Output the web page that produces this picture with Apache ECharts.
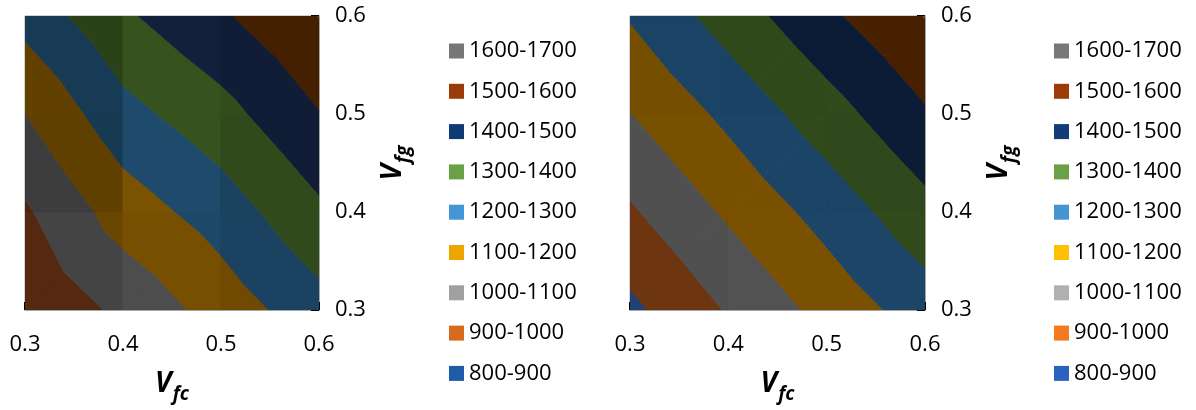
<!DOCTYPE html>
<html>
<head>
<meta charset="utf-8">
<script src="https://cdn.jsdelivr.net/npm/echarts@6/dist/echarts.min.js"></script>
<style>
html,body{margin:0;padding:0;background:#fff;}
#chart{width:1196px;height:410px;}
</style>
</head>
<body>
<div id="chart"></div>
<script>
// ---- data ----
const xVals = [0.3, 0.4, 0.5, 0.6];          // Vfc grid
const yVals = [0.3, 0.4, 0.5, 0.6];          // Vfg grid
// rows: Vfg = 0.3, 0.4, 0.5, 0.6 ; columns: Vfc = 0.3 .. 0.6
const zLeft = [
  [905, 1024, 1141, 1262],
  [986, 1146, 1247, 1380],
  [1099, 1266, 1364, 1495],
  [1235, 1384, 1486, 1602]
];
const zRight = [
  [877, 1008, 1132, 1250],
  [987, 1115, 1238, 1367],
  [1097, 1224, 1355, 1488],
  [1208, 1344, 1479, 1603]
];
const bandLabels = ['800-900','900-1000','1000-1100','1100-1200','1200-1300','1300-1400','1400-1500','1500-1600','1600-1700'];
const bandLow  = [800, 900, 1000, 1100, 1200, 1300, 1400, 1500, 1600];
const bandHigh = [900, 1000, 1100, 1200, 1300, 1400, 1500, 1600, 1700];
const axisTicks = [0.3, 0.4, 0.5, 0.6];

// ---- styles ----
const surfLeft  = ['#244884','#632f11','#4f4f4f','#7b5200','#1e4a6b','#36531f','#12203c','#4a2200','#5e5e5e'];
const surfRight = ['#244884','#7a3b12','#595959','#845800','#1e4b71','#35521f','#0d1f3c','#4f2400','#5e5e5e'];
const legLeft   = ['#1e5ca8','#d86a20','#a0a0a0','#eda500','#4596d4','#6aa046','#0f3a73','#9a3b0a','#777777'];
const legRight  = ['#2a63bd','#f47a20','#b0b0b0','#ffc000','#4595d3','#6aa046','#113c75','#9c3b08','#787878'];
const FONT = 'Open Sans';

// cell shading (steeper along Vfc -> darker), as in a top-viewed 3-D surface
function shadeFactor(gx) { return Math.max(0.6, Math.min(1.1, 1 - (gx - 1000) * 0.00035)); }
function shade(hex, f) {
  const n = parseInt(hex.slice(1), 16);
  const c = [(n >> 16) & 255, (n >> 8) & 255, n & 255].map(v => Math.max(0, Math.min(255, Math.round(v * f))));
  return 'rgb(' + c.join(',') + ')';
}

// ---- contour band polygons (triangulated linear interpolation) ----
function clip(poly, level, above) {
  const out = [];
  for (let i = 0; i < poly.length; i++) {
    const a = poly[i], b = poly[(i + 1) % poly.length];
    const ina = above ? a[2] >= level : a[2] <= level;
    const inb = above ? b[2] >= level : b[2] <= level;
    if (ina) out.push(a);
    if (ina !== inb) {
      const t = (level - a[2]) / (b[2] - a[2]);
      out.push([a[0] + t * (b[0] - a[0]), a[1] + t * (b[1] - a[1]), level]);
    }
  }
  return out;
}
function bandPolys(z, lo, hi) {
  const res = [];
  for (let j = 0; j < yVals.length - 1; j++) {
    for (let i = 0; i < xVals.length - 1; i++) {
      const hx = xVals[i + 1] - xVals[i];
      const p00 = [xVals[i], yVals[j], z[j][i]];
      const p10 = [xVals[i + 1], yVals[j], z[j][i + 1]];
      const p01 = [xVals[i], yVals[j + 1], z[j + 1][i]];
      const p11 = [xVals[i + 1], yVals[j + 1], z[j + 1][i + 1]];
      const gx = ((p10[2] - p00[2]) + (p11[2] - p01[2])) / 2 / hx;
      const f = shadeFactor(gx);
      [[p00, p10, p11], [p00, p11, p01]].forEach(tri => {
        let p = clip(tri, lo, true);
        if (p.length >= 3) p = clip(p, hi, false);
        if (p.length >= 3) res.push({ pts: p, f: f });
      });
    }
  }
  return res;
}

function makeSeries(z, colors, gridIdx) {
  return bandLabels.map((name, k) => {
    const polys = bandPolys(z, bandLow[k], bandHigh[k]);
    return {
      type: 'custom',
      name: name,
      coordinateSystem: 'cartesian2d',
      xAxisIndex: gridIdx, yAxisIndex: gridIdx,
      silent: true,
      clip: true,
      itemStyle: { color: colors[k] },
      data: polys.map(p => {
        let cx = 0, cy = 0;
        p.pts.forEach(q => { cx += q[0]; cy += q[1]; });
        return [cx / p.pts.length, cy / p.pts.length];
      }),
      renderItem: function (params, api) {
        const p = polys[params.dataIndex];
        const col = shade(colors[k], p.f);
        return {
          type: 'polygon',
          shape: { points: p.pts.map(q => api.coord([q[0], q[1]])) },
          style: { fill: col, stroke: col, lineWidth: 1 }
        };
      }
    };
  });
}

const nameRich = {
  v: { fontFamily: FONT, fontSize: 28, fontWeight: 'bold', fontStyle: 'italic', color: '#000', lineHeight: 30, verticalAlign: 'top' },
  s: { fontFamily: FONT, fontSize: 19, fontWeight: 'bold', fontStyle: 'italic', color: '#000', lineHeight: 20, padding: [15, 0, 0, 1], verticalAlign: 'top' }
};
const fmt = v => { const t = axisTicks.find(a => Math.abs(a - v) < 1e-6); return t !== undefined ? t.toFixed(1) : ''; };

function xAxisCfg(gridIdx) {
  return {
    type: 'value', gridIndex: gridIdx, min: 0.3, max: 0.6, interval: 0.1,
    name: '{v|V}{s|fc}', nameLocation: 'middle', nameGap: 60,
    nameTextStyle: { rich: nameRich },
    axisLine: { show: true, lineStyle: { color: '#a6a6a6', width: 1 } },
    axisTick: { show: true, inside: true, length: 8, lineStyle: { color: '#000', width: 2 } },
    splitLine: { show: false },
    axisLabel: { margin: 24, fontFamily: FONT, fontSize: 22, color: '#000', formatter: fmt }
  };
}
function yAxisCfg(gridIdx) {
  return {
    type: 'value', gridIndex: gridIdx, min: 0.3, max: 0.6, interval: 0.1, position: 'right',
    name: '{v|V}{s|fg}', nameLocation: 'middle', nameGap: 60, nameRotate: 90,
    nameTextStyle: { rich: nameRich },
    axisLine: { show: true, lineStyle: { color: '#a6a6a6', width: 1 } },
    axisTick: { show: true, inside: true, length: 8, lineStyle: { color: '#000', width: 2 } },
    splitLine: { show: false },
    axisLabel: { margin: 16, fontFamily: FONT, fontSize: 22, color: '#000', formatter: fmt }
  };
}
function legendCfg(left, colors) {
  return {
    orient: 'vertical', left: left, top: 35, itemGap: 18.3,
    itemWidth: 15, itemHeight: 15, icon: 'rect', selectedMode: false,
    textStyle: { fontFamily: FONT, fontSize: 22, color: '#000' },
    data: bandLabels.map((n, k) => ({ name: n, itemStyle: { color: colors[k] } })).reverse()
  };
}

const chart = echarts.init(document.getElementById('chart'), null, { renderer: 'canvas' });
chart.setOption({
  animation: false,
  backgroundColor: '#fff',
  grid: [
    { left: 25, top: 16, width: 294, height: 294, show: true, borderColor: '#a6a6a6', borderWidth: 1, backgroundColor: 'transparent' },
    { left: 630, top: 16, width: 295, height: 294, show: true, borderColor: '#a6a6a6', borderWidth: 1, backgroundColor: 'transparent' }
  ],
  xAxis: [xAxisCfg(0), xAxisCfg(1)],
  yAxis: [yAxisCfg(0), yAxisCfg(1)],
  legend: [legendCfg(444, legLeft), legendCfg(1049, legRight)],
  series: makeSeries(zLeft, surfLeft, 0).concat(makeSeries(zRight, surfRight, 1))
});
</script>
</body>
</html>
